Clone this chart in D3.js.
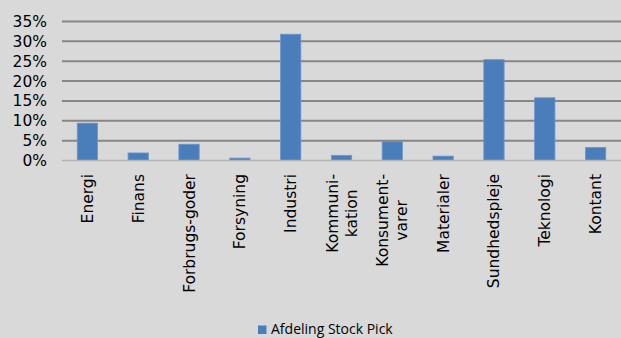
<!DOCTYPE html>
<html><head><meta charset="utf-8">
<script src="https://cdn.jsdelivr.net/npm/d3@7"></script>
<style>body{margin:0;background:#d9d9d9;}svg{display:block;}</style>
</head><body>
<script>
const categories = [["Energi"],["Finans"],["Forbrugs-goder"],["Forsyning"],["Industri"],["Kommuni-","kation"],["Konsument-","varer"],["Materialer"],["Sundhedspleje"],["Teknologi"],["Kontant"]];
const values = [0.094, 0.019, 0.041, 0.006, 0.318, 0.013, 0.048, 0.011, 0.254, 0.158, 0.033];
const yTicks = [0, 0.05, 0.10, 0.15, 0.20, 0.25, 0.30, 0.35];
const seriesName = "Afdeling Stock Pick";

const W = 621, H = 338;
const svg = d3.select("body").append("svg").attr("width", W).attr("height", H);
svg.append("rect").attr("width", W).attr("height", H).attr("fill", "#d9d9d9");

const x = d3.scaleBand().domain(d3.range(categories.length)).range([62, 621]).paddingInner(0.6).paddingOuter(0.3);
const y = d3.scaleLinear().domain([0, 0.35]).range([160.5, 21.5]);

// gridlines
svg.append("g").selectAll("line").data(yTicks.filter(d => d > 0)).join("line")
  .attr("x1", 62).attr("x2", W).attr("y1", d => y(d)).attr("y2", d => y(d))
  .attr("stroke", "#868686").attr("stroke-width", 2);

// y axis labels
const yAxis = d3.axisLeft(y).tickValues(yTicks).tickFormat(d3.format(".0%")).tickSize(0).tickPadding(0);
const ga = svg.append("g").attr("transform", "translate(47,0)").call(yAxis);
ga.select(".domain").remove();
ga.selectAll("text").attr("font-family", "DejaVu Sans").attr("font-size", 15.5).attr("fill", "#000");

// bars
svg.append("g").selectAll("rect").data(values).join("rect")
  .attr("x", (d, i) => x(i)).attr("width", x.bandwidth())
  .attr("y", d => y(d)).attr("height", d => y(0) - y(d))
  .attr("fill", "#4a7ebb").attr("stroke", "#6f97cb").attr("stroke-width", 0.8);

// baseline
svg.append("line").attr("x1", 62).attr("x2", W).attr("y1", y(0)).attr("y2", y(0))
  .attr("stroke", "#b3b3b3").attr("stroke-width", 1.5);

// x labels
const lg = svg.append("g");
categories.forEach((lines, i) => {
  const cx = x(i) + x.bandwidth() / 2;
  const n = lines.length, lh = 19;
  const texts = lines.map((t, j) => {
    const off = (j - (n - 1) / 2) * lh;
    return lg.append("text")
      .attr("font-family", "DejaVu Sans").attr("font-size", 15.5).attr("fill", "#000")
      .attr("text-anchor", "middle")
      .attr("data-off", off)
      .text(t);
  });
  const maxLen = d3.max(texts, t => t.node().getComputedTextLength());
  texts.forEach(t => {
    const off = +t.attr("data-off");
    t.attr("transform", `translate(${cx + off + 5.5},${174 + maxLen / 2}) rotate(-90)`);
  });
});

// legend
const leg = svg.append("g");
leg.append("rect").attr("x", 258).attr("y", 325.5).attr("width", 8.5).attr("height", 8.5).attr("fill", "#4a7ebb");
leg.append("text").attr("x", 271).attr("y", 334.3).attr("font-family", "Open Sans").attr("font-size", 14).attr("fill", "#000").text(seriesName);
</script>
</body></html>
